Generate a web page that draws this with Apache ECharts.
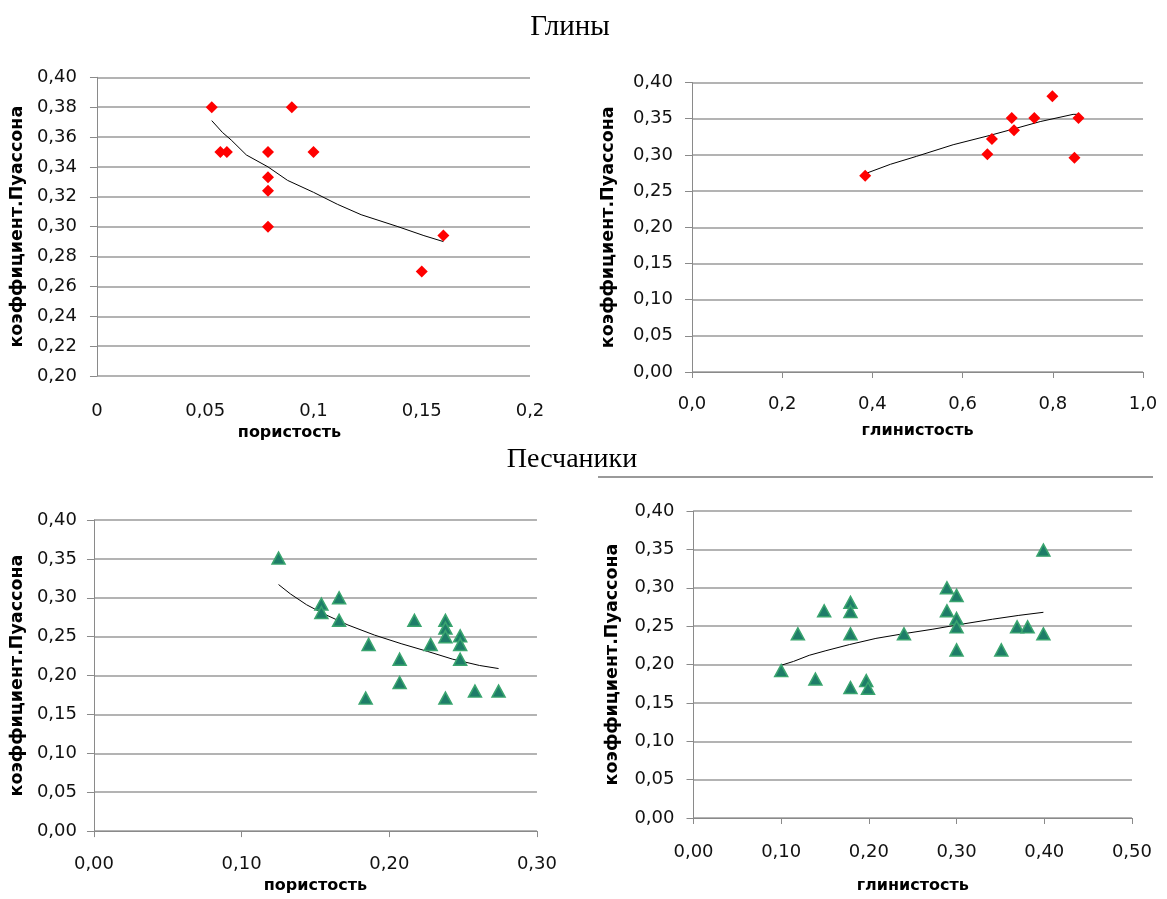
<!DOCTYPE html>
<html>
<head>
<meta charset="utf-8">
<script src="https://cdn.jsdelivr.net/npm/echarts@6/dist/echarts.min.js"></script>
<style>
html,body{margin:0;padding:0;background:#fff;}
#wrap{position:relative;width:1167px;height:899px;overflow:hidden;}
.c{position:absolute;}
</style>
</head>
<body>
<div id="wrap">
  <div id="base" class="c" style="left:0;top:0;width:1167px;height:899px;"></div>
  <div id="tl" class="c" style="left:0;top:0;width:580px;height:450px;"></div>
  <div id="tr" class="c" style="left:580px;top:0;width:587px;height:450px;"></div>
  <div id="bl" class="c" style="left:0;top:450px;width:560px;height:449px;"></div>
  <div id="br" class="c" style="left:580px;top:450px;width:575px;height:449px;"></div>
</div>
<script>
// ---------- titles ----------
const titleClays = 'Глины';
const titleSandstones = 'Песчаники';
const yName = 'коэффициент.Пуассона';
const xNamePorosity = 'пористость';
const xNameClay = 'глинистость';

// ---------- Глины: пористость ----------
const tlX = [0.053, 0.090, 0.057, 0.060, 0.079, 0.100, 0.079, 0.079, 0.079, 0.160, 0.150];
const tlY = [0.380, 0.380, 0.350, 0.350, 0.350, 0.350, 0.333, 0.324, 0.300, 0.294, 0.270];
const tlTrendX = [0.053, 0.058, 0.062, 0.069, 0.079, 0.088, 0.100, 0.111, 0.122, 0.139, 0.151, 0.160];
const tlTrendY = [0.371, 0.363, 0.358, 0.348, 0.340, 0.331, 0.323, 0.315, 0.308, 0.300, 0.294, 0.290];
const tlXTicks = ['0', '0,05', '0,1', '0,15', '0,2'];
const tlYTicks = ['0,20', '0,22', '0,24', '0,26', '0,28', '0,30', '0,32', '0,34', '0,36', '0,38', '0,40'];

// ---------- Глины: глинистость ----------
const trX = [0.384, 0.655, 0.665, 0.709, 0.714, 0.759, 0.799, 0.848, 0.857];
const trY = [0.271, 0.301, 0.322, 0.351, 0.334, 0.351, 0.381, 0.296, 0.351];
const trTrendX = [0.384, 0.440, 0.498, 0.579, 0.661, 0.720, 0.772, 0.845, 0.857];
const trTrendY = [0.274, 0.287, 0.298, 0.314, 0.327, 0.337, 0.346, 0.356, 0.356];
const trXTicks = ['0,0', '0,2', '0,4', '0,6', '0,8', '1,0'];
const yTicks005 = ['0,00', '0,05', '0,10', '0,15', '0,20', '0,25', '0,30', '0,35', '0,40'];

// ---------- Песчаники: пористость ----------
const blX = [0.125, 0.166, 0.154, 0.154, 0.166, 0.217, 0.238, 0.238, 0.238, 0.248, 0.248, 0.228, 0.186, 0.248, 0.207, 0.207, 0.184, 0.238, 0.258, 0.274];
const blY = [0.351, 0.300, 0.292, 0.281, 0.271, 0.271, 0.271, 0.261, 0.250, 0.251, 0.240, 0.240, 0.240, 0.221, 0.221, 0.191, 0.171, 0.171, 0.180, 0.180];
const blTrendX = [0.125, 0.133, 0.144, 0.156, 0.172, 0.190, 0.208, 0.226, 0.243, 0.261, 0.274];
const blTrendY = [0.317, 0.305, 0.291, 0.279, 0.265, 0.252, 0.241, 0.231, 0.221, 0.213, 0.209];
const blXTicks = ['0,00', '0,10', '0,20', '0,30'];

// ---------- Песчаники: глинистость ----------
const brX = [0.399, 0.289, 0.300, 0.289, 0.300, 0.300, 0.300, 0.351, 0.369, 0.381, 0.399, 0.240, 0.179, 0.179, 0.179, 0.179, 0.149, 0.119, 0.100, 0.139, 0.197, 0.199];
const brY = [0.349, 0.300, 0.290, 0.270, 0.260, 0.249, 0.219, 0.219, 0.249, 0.249, 0.240, 0.240, 0.281, 0.269, 0.240, 0.170, 0.270, 0.240, 0.192, 0.181, 0.179, 0.169];
const brTrendX = [0.100, 0.114, 0.132, 0.151, 0.178, 0.208, 0.239, 0.273, 0.303, 0.341, 0.371, 0.399];
const brTrendY = [0.199, 0.204, 0.212, 0.218, 0.226, 0.234, 0.240, 0.246, 0.252, 0.259, 0.264, 0.268];
const brXTicks = ['0,00', '0,10', '0,20', '0,30', '0,40', '0,50'];

function zip(a, b) { return a.map((v, i) => [v, b[i]]); }

const FONT = 'DejaVu Sans';
const GRID_COLOR = '#9a9a9a';
const AXIS_COLOR = '#8a8a8a';

function makeOption(c) {
  return {
    animation: false,
    grid: c.grid,
    xAxis: {
      type: 'value', min: c.xMin, max: c.xMax, interval: c.xInt,
      name: c.xName, nameLocation: 'middle', nameGap: c.xNameGap,
      nameTextStyle: { fontFamily: FONT, fontWeight: 'bold', fontSize: 16, color: '#000', padding: c.xNamePad || 0 },
      axisLine: { show: c.xLine, lineStyle: { color: AXIS_COLOR, width: 1 } },
      axisTick: { show: c.xLine, length: 6, lineStyle: { color: AXIS_COLOR } },
      splitLine: { show: false },
      axisLabel: { margin: c.xLabelMargin, fontFamily: FONT, fontSize: 18, color: '#111',
        formatter: (v, i) => c.xTicks[i] },
    },
    yAxis: {
      type: 'value', min: c.yMin, max: c.yMax, interval: c.yInt,
      name: yName, nameLocation: 'middle', nameGap: c.yNameGap,
      nameTextStyle: { fontFamily: FONT, fontWeight: 'bold', fontSize: 17.5, color: '#000' },
      axisLine: { show: true, lineStyle: { color: AXIS_COLOR, width: 1 } },
      axisTick: { show: true, length: 7, lineStyle: { color: AXIS_COLOR } },
      splitLine: { show: true, lineStyle: { color: GRID_COLOR, width: 1.5 } },
      axisLabel: { margin: c.yLabelMargin, fontFamily: FONT, fontSize: 18, color: '#111',
        formatter: (v, i) => c.yTicks[i] },
    },
    series: [
      {
        type: 'line', data: zip(c.trendX, c.trendY), showSymbol: false, symbol: 'none',
        lineStyle: { color: '#000', width: 1 }, z: 3, silent: true,
      },
      {
        type: 'scatter', data: zip(c.x, c.y), symbol: c.symbol, symbolSize: c.symbolSize,
        itemStyle: c.itemStyle, z: 4,
      },
    ],
  };
}

const diamondStyle = { color: '#ff0000', borderColor: '#ff0000', borderWidth: 0, opacity: 1 };
const triStyle = { color: '#1e7d68', borderColor: '#3aa56f', borderWidth: 1.5, opacity: 1 };

const base = echarts.init(document.getElementById('base'), null, { renderer: 'canvas' });
base.setOption({
  animation: false,
  graphic: [
    { type: 'text', x: 570, y: 27, style: { text: titleClays, font: '29px "Liberation Serif"', fill: '#000', textAlign: 'center', textVerticalAlign: 'middle' } },
    { type: 'text', x: 572, y: 460, style: { text: titleSandstones, font: '28px "Liberation Serif"', fill: '#000', textAlign: 'center', textVerticalAlign: 'middle' } },
    { type: 'line', shape: { x1: 598, y1: 477, x2: 1153, y2: 477 }, style: { stroke: '#9a9a9a', lineWidth: 2 } },
  ],
});

echarts.init(document.getElementById('tl')).setOption(makeOption({
  grid: { left: 96, top: 77.3, width: 434, height: 298.7 },
  xMin: 0, xMax: 0.2, xInt: 0.05, xTicks: tlXTicks, xName: xNamePorosity, xNameGap: 47, xNamePad: [0, 48, 0, 0],
  xLine: false, xLabelMargin: 26,
  yMin: 0.2, yMax: 0.4, yInt: 0.02, yTicks: tlYTicks, yNameGap: 66, yLabelMargin: 20,
  x: tlX, y: tlY, trendX: tlTrendX, trendY: tlTrendY,
  symbol: 'diamond', symbolSize: 12, itemStyle: diamondStyle,
}));

echarts.init(document.getElementById('tr')).setOption(makeOption({
  grid: { left: 112, top: 82.5, width: 451, height: 289.5 },
  xMin: 0, xMax: 1.0, xInt: 0.2, xTicks: trXTicks, xName: xNameClay, xNameGap: 51,
  xLine: true, xLabelMargin: 23,
  yMin: 0, yMax: 0.4, yInt: 0.05, yTicks: yTicks005, yNameGap: 75, yLabelMargin: 19,
  x: trX, y: trY, trendX: trTrendX, trendY: trTrendY,
  symbol: 'diamond', symbolSize: 12, itemStyle: diamondStyle,
}));

echarts.init(document.getElementById('bl')).setOption(makeOption({
  grid: { left: 93.5, top: 70, width: 447.5, height: 314 },
  xMin: 0, xMax: 0.3, xInt: 0.1, xTicks: blXTicks, xName: xNamePorosity, xNameGap: 46,
  xLine: true, xLabelMargin: 24,
  yMin: 0, yMax: 0.4, yInt: 0.05, yTicks: yTicks005, yNameGap: 64, yLabelMargin: 17,
  x: blX, y: blY, trendX: blTrendX, trendY: blTrendY,
  symbol: 'triangle', symbolSize: [13, 12], itemStyle: triStyle,
}));

echarts.init(document.getElementById('br')).setOption(makeOption({
  grid: { left: 113.5, top: 61, width: 439.8, height: 313.5 },
  xMin: 0, xMax: 0.5, xInt: 0.1, xTicks: brXTicks, xName: xNameClay, xNameGap: 60,
  xLine: true, xLabelMargin: 25,
  yMin: 0, yMax: 0.4, yInt: 0.05, yTicks: yTicks005, yNameGap: 72, yLabelMargin: 19,
  x: brX, y: brY, trendX: brTrendX, trendY: brTrendY,
  symbol: 'triangle', symbolSize: [13, 12], itemStyle: triStyle,
}));
</script>
</body>
</html>
